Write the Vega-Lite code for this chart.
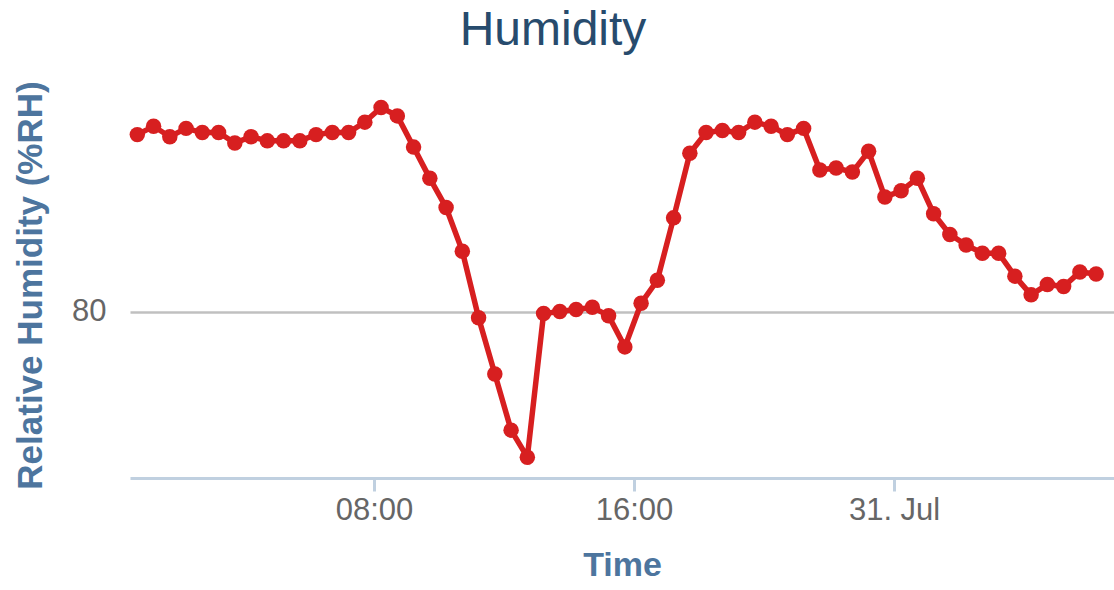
{
  "$schema": "https://vega.github.io/schema/vega-lite/v6.json",
  "autosize": {"type": "none"},
  "width": 984,
  "height": 385,
  "padding": {"left": 130, "top": 93, "right": 0, "bottom": 112},
  "background": "white",
  "config": {"view": {"stroke": null}},
  "title": {
    "text": "Humidity",
    "anchor": "middle",
    "frame": "group",
    "dx": -69,
    "dy": 22,
    "offset": 10,
    "baseline": "alphabetic",
    "font": "Liberation Sans",
    "fontSize": 48,
    "fontWeight": "normal",
    "color": "#274b6d"
  },
  "data": {
    "values": [
      {"time": "2024-07-30T00:43:00", "rh": 88.5},
      {"time": "2024-07-30T01:13:00", "rh": 88.9},
      {"time": "2024-07-30T01:43:00", "rh": 88.4},
      {"time": "2024-07-30T02:13:00", "rh": 88.8},
      {"time": "2024-07-30T02:43:00", "rh": 88.6},
      {"time": "2024-07-30T03:13:00", "rh": 88.6},
      {"time": "2024-07-30T03:43:00", "rh": 88.1},
      {"time": "2024-07-30T04:13:00", "rh": 88.4},
      {"time": "2024-07-30T04:43:00", "rh": 88.2},
      {"time": "2024-07-30T05:13:00", "rh": 88.2},
      {"time": "2024-07-30T05:43:00", "rh": 88.2},
      {"time": "2024-07-30T06:13:00", "rh": 88.5},
      {"time": "2024-07-30T06:43:00", "rh": 88.6},
      {"time": "2024-07-30T07:13:00", "rh": 88.6},
      {"time": "2024-07-30T07:43:00", "rh": 89.1},
      {"time": "2024-07-30T08:13:00", "rh": 89.8},
      {"time": "2024-07-30T08:43:00", "rh": 89.4},
      {"time": "2024-07-30T09:13:00", "rh": 87.9},
      {"time": "2024-07-30T09:43:00", "rh": 86.4},
      {"time": "2024-07-30T10:13:00", "rh": 85.0},
      {"time": "2024-07-30T10:43:00", "rh": 82.9},
      {"time": "2024-07-30T11:13:00", "rh": 79.7},
      {"time": "2024-07-30T11:43:00", "rh": 77.0},
      {"time": "2024-07-30T12:13:00", "rh": 74.3},
      {"time": "2024-07-30T12:43:00", "rh": 73.0},
      {"time": "2024-07-30T13:13:00", "rh": 79.9},
      {"time": "2024-07-30T13:43:00", "rh": 80.0},
      {"time": "2024-07-30T14:13:00", "rh": 80.1},
      {"time": "2024-07-30T14:43:00", "rh": 80.2},
      {"time": "2024-07-30T15:13:00", "rh": 79.8},
      {"time": "2024-07-30T15:43:00", "rh": 78.3},
      {"time": "2024-07-30T16:13:00", "rh": 80.4},
      {"time": "2024-07-30T16:43:00", "rh": 81.5},
      {"time": "2024-07-30T17:13:00", "rh": 84.5},
      {"time": "2024-07-30T17:43:00", "rh": 87.6},
      {"time": "2024-07-30T18:13:00", "rh": 88.6},
      {"time": "2024-07-30T18:43:00", "rh": 88.7},
      {"time": "2024-07-30T19:13:00", "rh": 88.6},
      {"time": "2024-07-30T19:43:00", "rh": 89.1},
      {"time": "2024-07-30T20:13:00", "rh": 88.9},
      {"time": "2024-07-30T20:43:00", "rh": 88.5},
      {"time": "2024-07-30T21:13:00", "rh": 88.8},
      {"time": "2024-07-30T21:43:00", "rh": 86.8},
      {"time": "2024-07-30T22:13:00", "rh": 86.9},
      {"time": "2024-07-30T22:43:00", "rh": 86.7},
      {"time": "2024-07-30T23:13:00", "rh": 87.7},
      {"time": "2024-07-30T23:43:00", "rh": 85.5},
      {"time": "2024-07-31T00:13:00", "rh": 85.8},
      {"time": "2024-07-31T00:43:00", "rh": 86.4},
      {"time": "2024-07-31T01:13:00", "rh": 84.7},
      {"time": "2024-07-31T01:43:00", "rh": 83.7},
      {"time": "2024-07-31T02:13:00", "rh": 83.2},
      {"time": "2024-07-31T02:43:00", "rh": 82.8},
      {"time": "2024-07-31T03:13:00", "rh": 82.8},
      {"time": "2024-07-31T03:43:00", "rh": 81.7},
      {"time": "2024-07-31T04:13:00", "rh": 80.8},
      {"time": "2024-07-31T04:43:00", "rh": 81.3},
      {"time": "2024-07-31T05:13:00", "rh": 81.2},
      {"time": "2024-07-31T05:43:00", "rh": 81.9},
      {"time": "2024-07-31T06:13:00", "rh": 81.8}
    ]
  },
  "mark": {
    "type": "line",
    "color": "#d71f20",
    "strokeWidth": 5.5,
    "point": {"filled": true, "size": 240, "color": "#d71f20", "opacity": 1}
  },
  "encoding": {
    "x": {
      "field": "time",
      "type": "temporal",
      "scale": {
        "domain": [
          {"year": 2024, "month": 7, "date": 30, "hours": 0, "minutes": 29, "seconds": 30},
          {"year": 2024, "month": 7, "date": 31, "hours": 6, "minutes": 46}
        ],
        "nice": false
      },
      "axis": {
        "title": "Time",
        "values": [
          {"year": 2024, "month": 7, "date": 30, "hours": 8},
          {"year": 2024, "month": 7, "date": 30, "hours": 16},
          {"year": 2024, "month": 7, "date": 31, "hours": 0}
        ],
        "labelExpr": "hours(datum.value) == 0 ? timeFormat(datum.value, '%d. %b') : timeFormat(datum.value, '%H:%M')",
        "grid": false,
        "domainColor": "#c0d0e0",
        "domainWidth": 3,
        "tickColor": "#c0d0e0",
        "tickWidth": 3,
        "tickSize": 13,
        "labelPadding": 4,
        "labelFont": "Liberation Sans",
        "labelFontSize": 31,
        "labelColor": "#666666",
        "labelFlush": false,
        "labelOverlap": false,
        "titleFont": "Liberation Sans",
        "titleFontSize": 34,
        "titleFontWeight": "bold",
        "titleColor": "#4d759e",
        "titleBaseline": "middle",
        "titleY": 87
      }
    },
    "y": {
      "field": "rh",
      "type": "quantitative",
      "scale": {"domain": [72, 90.5], "nice": false, "zero": false},
      "axis": {
        "title": "Relative Humidity (%RH)",
        "values": [80],
        "domain": false,
        "ticks": false,
        "tickSize": 0,
        "labelPadding": 24,
        "grid": true,
        "gridColor": "#c0c0c0",
        "gridWidth": 2.5,
        "labelFont": "Liberation Sans",
        "labelFontSize": 31,
        "labelColor": "#666666",
        "titleFont": "Liberation Sans",
        "titleFontSize": 35,
        "titleFontWeight": "bold",
        "titleColor": "#4d759e",
        "titleAngle": 270,
        "titleAlign": "center",
        "titleBaseline": "middle",
        "titleX": -100,
        "titleY": 192
      }
    }
  }
}
